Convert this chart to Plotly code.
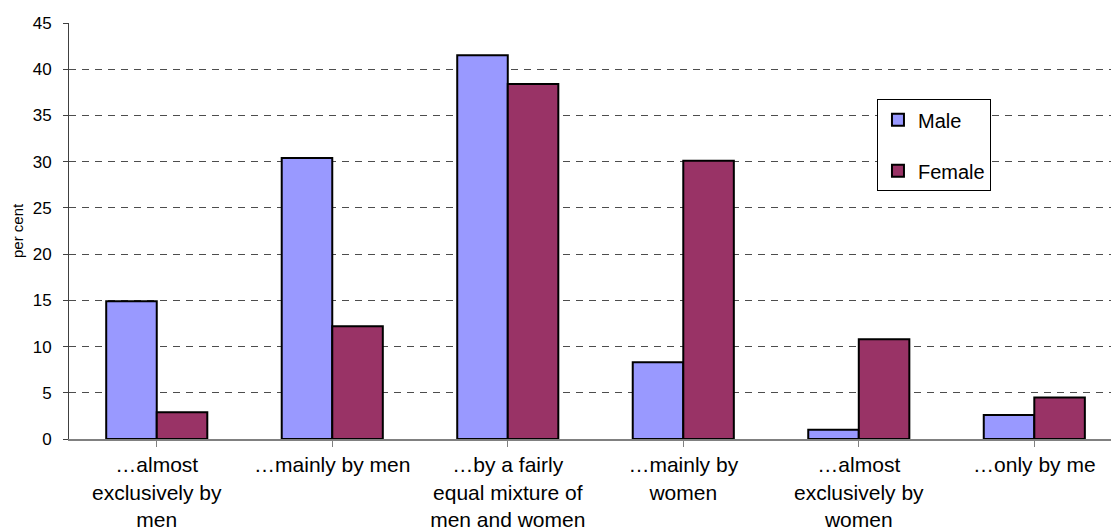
import plotly.graph_objects as go

categories = [
    "…almost<br>exclusively by<br>men",
    "…mainly by men",
    "…by a fairly<br>equal mixture of<br>men and women",
    "…mainly by<br>women",
    "…almost<br>exclusively by<br>women",
    "…only by me",
]
male = [14.9, 30.4, 41.5, 8.3, 1.0, 2.6]
female = [2.9, 12.2, 38.4, 30.1, 10.8, 4.5]
y_ticks = [0, 5, 10, 15, 20, 25, 30, 35, 40, 45]

FONT = "Liberation Sans, Arial, sans-serif"
W, H = 1111, 530
ML, MR, MT, MB = 69, 0, 23, 91

fig = go.Figure()
fig.add_trace(go.Bar(
    x=list(range(len(categories))), y=male, name="Male",
    marker=dict(color="#9999FF", line=dict(color="#000000", width=2)),
    legendgroup="m",
))
fig.add_trace(go.Bar(
    x=list(range(len(categories))), y=female, name="Female",
    marker=dict(color="#993366", line=dict(color="#000000", width=2)),
    legendgroup="f",
))

fig.update_layout(
    width=W, height=H,
    margin=dict(l=ML, r=MR, t=MT, b=MB, autoexpand=False),
    paper_bgcolor="white", plot_bgcolor="white",
    barmode="group", bargap=0.424, bargroupgap=0,
    font=dict(family=FONT, color="#000000"),
    showlegend=True,
    legend=dict(
        x=0.7754, y=0.8166, xanchor="left", yanchor="top",
        bgcolor="white", bordercolor="#000000", borderwidth=1,
        font=dict(size=20, family=FONT),
        traceorder="grouped", tracegroupgap=22,
        itemwidth=30,
        entrywidth=96, entrywidthmode="pixels",
    ),
    xaxis=dict(
        tickmode="array",
        tickvals=list(range(len(categories))),
        ticktext=categories,
        range=[-0.5, 5.437],
        tickson="boundaries",
        ticks="outside", ticklen=6, tickcolor="#808080", tickwidth=1,
        showline=True, linecolor="#808080", linewidth=2,
        showgrid=False, zeroline=False,
        tickfont=dict(size=21, family=FONT),
        tickangle=0,
        fixedrange=True,
    ),
    yaxis=dict(
        range=[0, 45],
        tickmode="array", tickvals=y_ticks,
        ticks="outside", ticklen=5, tickcolor="#404040", tickwidth=1,
        showline=True, linecolor="#404040", linewidth=1,
        showgrid=True, gridcolor="#4d4d4d", gridwidth=1, griddash="7px,6px",
        zeroline=False,
        tickfont=dict(size=17, family=FONT),
        ticklabelstandoff=8,
        fixedrange=True,
    ),
    annotations=[dict(
        text="per cent", textangle=-90,
        xref="paper", yref="paper", x=(17 - ML) / (W - ML - MR), y=0.5,
        xanchor="center", yanchor="middle", showarrow=False,
        font=dict(size=15, family=FONT),
    )],
)

fig.write_html("out.html")
